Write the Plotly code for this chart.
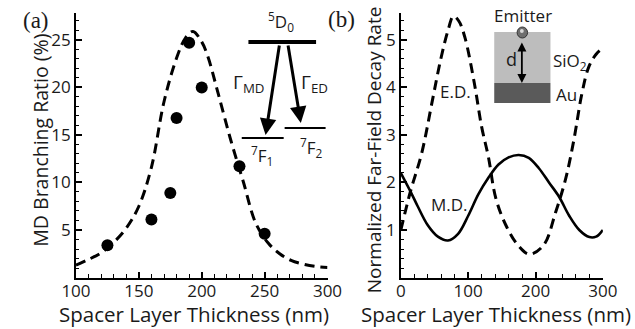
import plotly.graph_objects as go

# ---------------- data ----------------
# (a) measured MD branching ratio
exp_thickness = [125, 160, 175, 180, 190, 200, 230, 250]
exp_ratio = [3.4, 6.1, 8.9, 16.8, 24.7, 20.0, 11.7, 4.6]

# (a) calculated branching ratio (dashed)
calc_thickness = [100, 110, 120, 130, 140, 150, 160, 170, 180, 187, 193, 200, 205, 213,
                  223, 233, 243, 253, 262, 271, 281, 291, 300]
calc_ratio = [1.3, 1.9, 2.6, 3.7, 5.2, 7.5, 11.6, 18.5, 23.1, 25.2, 25.9, 24.8, 23.2, 19.4,
              14.5, 10.1, 5.7, 3.6, 2.5, 1.8, 1.4, 1.15, 1.05]

# (b) electric dipole decay rate (dashed)
ed_thickness = [0, 14, 31, 47, 59, 70, 78, 86, 95, 109, 120, 130, 141, 156, 174, 191,
                212, 230, 245, 257, 269, 279, 290, 300]
ed_rate = [1.0, 1.8, 2.62, 3.74, 4.58, 5.2, 5.5, 5.4, 5.06, 4.1, 3.17, 2.54,
           1.67, 1.1, 0.68, 0.49, 0.68, 1.38, 2.09, 2.9, 3.88, 4.43, 4.7, 4.83]

# (b) magnetic dipole decay rate (solid)
md_thickness = [0, 14, 25, 40, 55, 70, 85, 100, 115, 130, 145, 160, 175, 190, 205, 220,
                235, 250, 265, 280, 290, 300]
md_rate = [2.2, 1.82, 1.5, 1.1, 0.86, 0.78, 0.92, 1.3, 1.75, 2.1, 2.38, 2.53, 2.58, 2.52,
           2.3, 2.0, 1.7, 1.3, 1.0, 0.85, 0.86, 1.0]

xticks_a = [100, 150, 200, 250, 300]
yticks_a = [5, 10, 15, 20, 25]
xticks_b = [0, 100, 200, 300]
yticks_b = [1, 2, 3, 4, 5]

# ---------------- layout helpers ----------------
W, H = 635, 329
FONT = "Open Sans"
TXT = "#1a1a1a"


def px(x):
    return x / W


def py(y):
    return 1 - y / H


fig = go.Figure()

fig.add_trace(go.Scatter(x=calc_thickness, y=calc_ratio, mode="lines",
                         line=dict(color="black", width=3, dash="10px,6px", shape="spline"),
                         xaxis="x", yaxis="y", showlegend=False))
fig.add_trace(go.Scatter(x=exp_thickness, y=exp_ratio, mode="markers",
                         marker=dict(color="black", size=12),
                         xaxis="x", yaxis="y", showlegend=False))
fig.add_trace(go.Scatter(x=ed_thickness, y=ed_rate, mode="lines",
                         line=dict(color="black", width=3, dash="10px,6px", shape="spline"),
                         xaxis="x2", yaxis="y2", showlegend=False))
fig.add_trace(go.Scatter(x=md_thickness, y=md_rate, mode="lines",
                         line=dict(color="black", width=2.6, shape="spline"),
                         xaxis="x2", yaxis="y2", showlegend=False))


def axis(domain, rng, tickvals, minor_dtick, anchor, standoff=0):
    return dict(domain=domain, range=rng, tickvals=tickvals, anchor=anchor,
                showline=True, linecolor="black", linewidth=1.6,
                ticks="inside", ticklen=6, tickwidth=1.5, tickcolor="black",
                showgrid=False, zeroline=False, ticklabelstandoff=standoff,
                tickfont=dict(family=FONT, size=17, color=TXT),
                minor=dict(ticks="inside", ticklen=3.5, tickwidth=1.2, tickcolor="black",
                           dtick=minor_dtick, tick0=0, showgrid=False))


ydom = [py(277.5), py(13)]
fig.update_layout(
    width=W, height=H, autosize=False,
    margin=dict(l=0, r=0, t=0, b=0),
    paper_bgcolor="white", plot_bgcolor="white",
    xaxis=axis([px(64), px(328)], [100, 300], xticks_a, 10, "y", -3),
    yaxis=axis(ydom, [0, 27.84], yticks_a, 1, "x"),
    xaxis2=axis([px(405), px(617)], [0, 300], xticks_b, 20, "y2", -3),
    yaxis2=axis(ydom, [0, 5.568], yticks_b, 0.2, "x2"),
)

ann = []


def text(x, y, s, size=17, family=FONT, angle=0, xanchor="center"):
    ann.append(dict(x=px(x), y=py(y), xref="paper", yref="paper", text=s, showarrow=False,
                    font=dict(family=family, size=size, color=TXT), textangle=angle,
                    xanchor=xanchor, yanchor="middle"))


# panel labels
text(22, 20, "(a)", size=23, family="Liberation Serif")
text(343, 19, "(b)", size=23, family="Liberation Serif")
# axis titles
text(27, 140, "MD Branching Ratio (%)", size=19.5, angle=-90)
text(377, 150, "Normalized Far-Field Decay Rate", size=19, angle=-90)
text(188, 313.5, "Spacer Layer Thickness (nm)", size=20.5)
text(505, 313.5, "Spacer Layer Thickness (nm)", size=20.5)
# curve labels
text(462, 92, "E.D.", size=17)
text(456, 205, "M.D.", size=17)

# energy level diagram
text(279, 22, "<sup>5</sup>D<sub>0</sub>", size=17)
text(246, 83, "Γ<sub>MD</sub>", size=19)
text(314, 83, "Γ<sub>ED</sub>", size=19)
text(259, 156, "<sup>7</sup>F<sub>1</sub>", size=17)
text(311, 147, "<sup>7</sup>F<sub>2</sub>", size=17)

for (x0, y0, x1, y1) in [(277, 44, 263, 135), (287, 44, 300, 123)]:
    ann.append(dict(x=px(x1), y=py(y1), xref="paper", yref="paper",
                    ax=x0 - x1, ay=y0 - y1, axref="pixel", ayref="pixel",
                    text="", showarrow=True, arrowhead=2, arrowsize=1.1, arrowwidth=3,
                    arrowcolor="black", standoff=0))

# inset for (b)
text(533, 15, "Emitter", size=17)
text(521, 59, "d", size=18)
text(583, 61, "SiO<sub>2</sub>", size=17)
text(579, 95, "Au", size=17)
ann.append(dict(x=px(532), y=py(83), xref="paper", yref="paper",
                ax=0, ay=-42, axref="pixel", ayref="pixel", text="", showarrow=True,
                arrowhead=2, arrowsize=1, arrowwidth=1.8, arrowside="end+start",
                arrowcolor="black", standoff=0, startstandoff=0))

fig.update_layout(annotations=ann)

shapes = []
# energy levels
shapes.append(dict(type="line", xref="paper", yref="paper", x0=px(245), x1=px(316),
                   y0=py(42), y1=py(42), line=dict(color="black", width=4)))
shapes.append(dict(type="line", xref="paper", yref="paper", x0=px(238), x1=px(282),
                   y0=py(138), y1=py(138), line=dict(color="black", width=2.2)))
shapes.append(dict(type="line", xref="paper", yref="paper", x0=px(283), x1=px(326),
                   y0=py(128), y1=py(128), line=dict(color="black", width=2.2)))
# layers
shapes.append(dict(type="rect", xref="paper", yref="paper", x0=px(503), x1=px(562),
                   y0=py(83), y1=py(32), fillcolor="#bdbdbd", line=dict(width=0), layer="below"))
shapes.append(dict(type="rect", xref="paper", yref="paper", x0=px(503), x1=px(562),
                   y0=py(103), y1=py(83), fillcolor="#5a5a5a", line=dict(width=0), layer="below"))
# emitter sphere
shapes.append(dict(type="circle", xref="paper", yref="paper", x0=px(527), x1=px(538),
                   y0=py(38), y1=py(27), fillcolor="#6e6e6e", line=dict(color="#333", width=1)))
shapes.append(dict(type="circle", xref="paper", yref="paper", x0=px(530), x1=px(534),
                   y0=py(33), y1=py(29), fillcolor="#d8d8d8", line=dict(width=0)))
fig.update_layout(shapes=shapes)

fig.write_html(
    "out.html",
    config={"displayModeBar": False, "responsive": False},
    post_script=("document.documentElement.style.overflow='hidden';"
                 "document.body.style.overflow='hidden';"
                 "document.body.style.margin='0';document.body.style.padding='0';"),
)
